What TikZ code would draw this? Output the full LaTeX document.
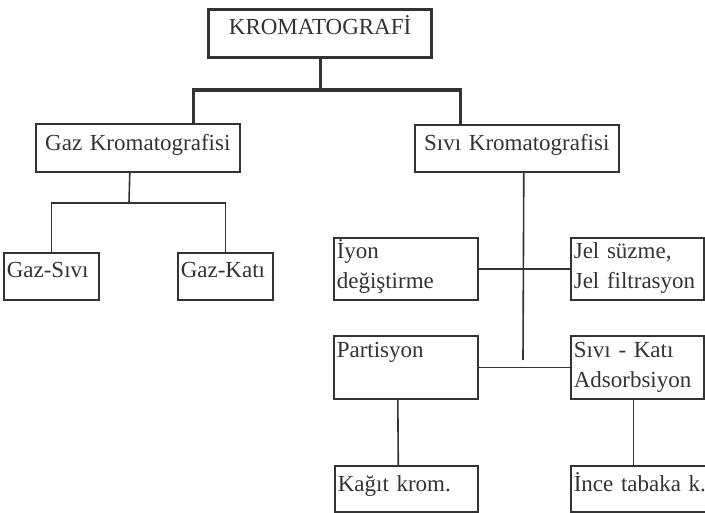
\documentclass[tikz,border=0pt]{standalone}
\usepackage{fontspec}
\setmainfont{Liberation Serif}
\usepackage{tikz}
\definecolor{cizgi}{HTML}{333333}

\begin{document}
\begin{tikzpicture}[
	kutu/.style={draw=cizgi, line width=1.6pt, anchor=north west, inner xsep=3pt, inner ysep=0pt,
		align=left, text=cizgi, font=\fontsize{23}{30}\selectfont},
	ust/.style={kutu, align=center},
	kalin/.style={draw=cizgi, line width=3.2pt, line join=miter},
	ince/.style={draw=cizgi, line width=1.6pt}]
	\pgfsetxvec{\pgfpoint{1pt}{0pt}} 
	\pgfsetyvec{\pgfpoint{0pt}{-1pt}} 
	\useasboundingbox (0,0) rectangle (705,512);

	\node[ust, line width=3.2pt, text width=217pt, text height=25pt, text depth=23pt] at (207,8) (krom) {KROMATOGRAFİ};
	\node[ust, text width=198pt, text height=27pt, text depth=21pt] at (35,123) (gaz) {Gaz Kromatografisi};
	\node[ust, text width=198pt, text height=26pt, text depth=21pt] at (414,124) (sivi) {Sıvı Kromatografisi};
	\node[kutu, text width=89pt, text height=25pt, text depth=22pt] at (3,252) (gazsivi) {Gaz-Sıvı};
	\node[kutu, text width=89pt, text height=25pt, text depth=22pt] at (177,252) (gazkati) {Gaz-Katı};
	\node[kutu, text width=138pt, text height=21pt, text depth=41pt] at (333,237) (iyon) {İyon\\değiştirme};
	\node[kutu, text width=127pt, text height=21pt, text depth=41pt] at (570,237) (jel) {Jel süzme,\\Jel filtrasyon};
	\node[kutu, text width=138pt, text height=22pt, text depth=41pt] at (333,335) (parti) {Partisyon};
	\node[kutu, text width=127pt, text height=22pt, text depth=41pt] at (570,335) (sk) {Sıvı - Katı\\Adsorbsiyon};
	\node[kutu, text width=137pt, text height=26pt, text depth=20pt] at (334,465) (kagit) {Kağıt krom.};
	\node[kutu, text width=134pt, text height=26pt, text depth=20pt] at (570,465) (incetab) {İnce tabaka k.};

	% kollar
	\coordinate (ana) at (318,90);
	\coordinate (gazkol) at (129,203);
	\coordinate (sivikol) at (523,360);

	\draw[kalin] (krom.south) -- (krom.south |- ana);
	\draw[kalin] ([xshift=56pt]gaz.north) |- (ana) -| ([xshift=-56pt]sivi.north);
	\draw[ince] ([xshift=-8pt]gaz.south) -- (gazkol);
	\draw[ince] (gazsivi.north) |- (gazkol) -| (gazkati.north);
	\draw[ince] ([xshift=7pt]sivi.south) -- (sivikol);
	\path[ince] (iyon) 
	edge (jel) 
	(parti) 
	edge (sk);
	\draw[ince] ([xshift=-8pt]parti.south) -- ([xshift=-8pt]kagit.north);
	\draw[ince] ([xshift=-4pt]sk.south) -- ([xshift=-4pt]sk.south |- incetab.north);

\end{tikzpicture}
\end{document}
